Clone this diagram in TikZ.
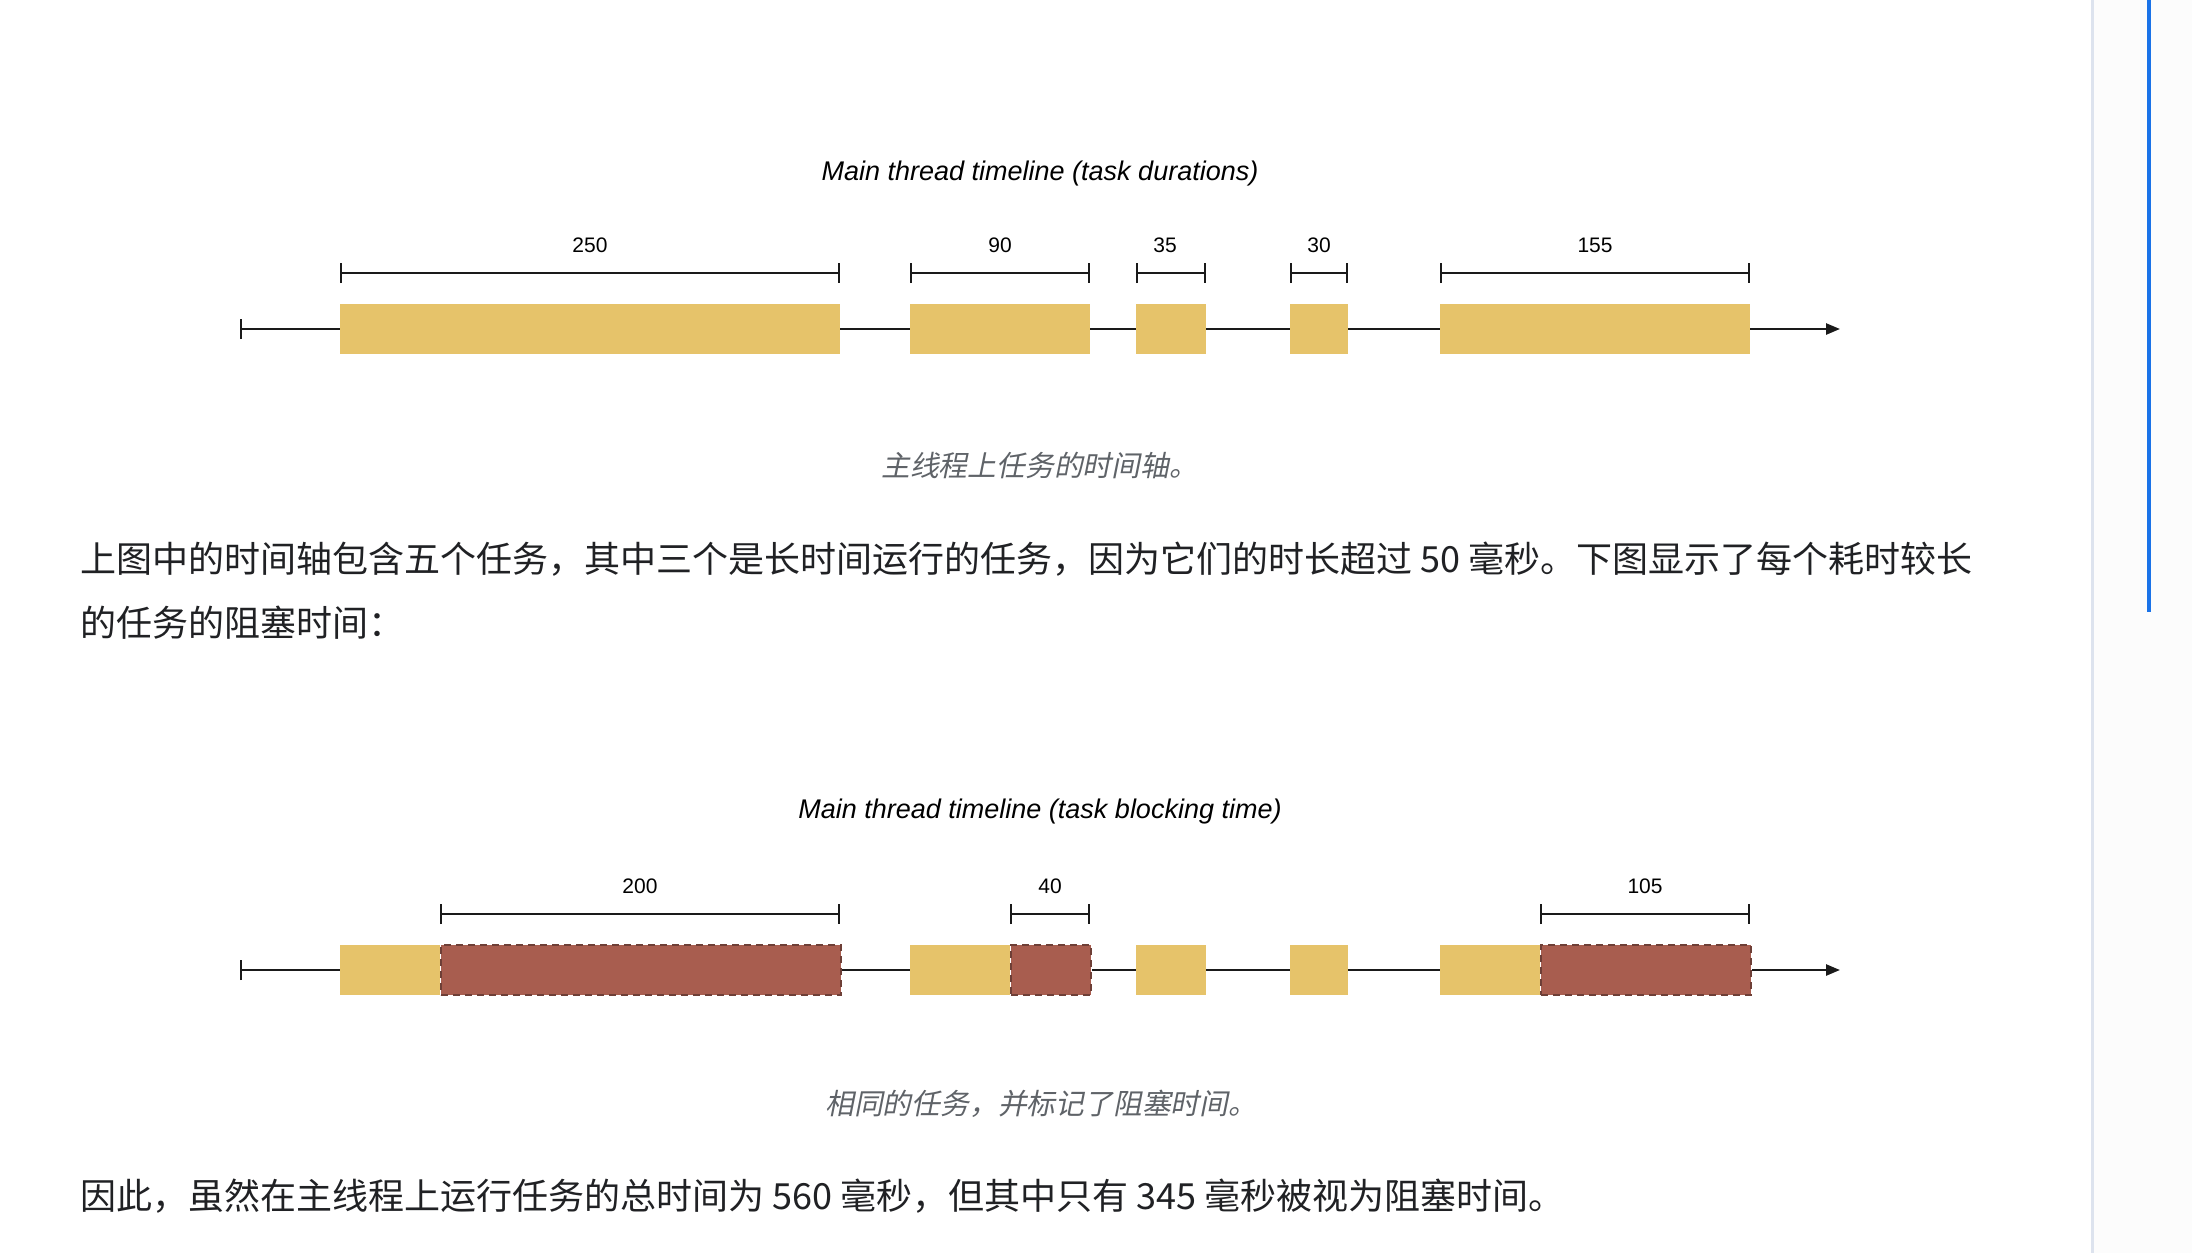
\documentclass[tikz,border=0pt]{standalone}
\usepackage{fontspec}
\setmainfont{Liberation Sans}
\newfontfamily\cjk{Noto Sans CJK SC}
\newfontfamily\cjkit[FakeSlant=0.2]{Noto Sans CJK SC}
\usetikzlibrary{arrows.meta}
\definecolor{taskyellow}{HTML}{E6C36A}
\definecolor{blockred}{HTML}{A85D4F}
\definecolor{blockedge}{HTML}{6E3F37}
\definecolor{axisblack}{HTML}{1A1A1A}
\definecolor{capgray}{HTML}{5F6368}
\definecolor{bodyblack}{HTML}{202124}
\definecolor{sidegray}{HTML}{DDE3EE}
\definecolor{scrollblue}{HTML}{1A73E8}
\tikzset{
  taskbar/.style={fill=taskyellow, draw=none, inner sep=0pt, minimum height=50pt, anchor=west},
  blockbar/.style={fill=blockred, draw=blockedge, line width=2pt, dash pattern=on 7pt off 5pt, inner sep=0pt, minimum height=50pt, anchor=west},
  axisline/.style={draw=axisblack, line width=2.5pt},
  bracket/.style={draw=axisblack, line width=2.5pt, {Bar[width=20pt,line width=2pt]}-{Bar[width=20pt,line width=2pt]}},
  durlabel/.style={font=\fontsize{21}{25}\selectfont, text=black, inner sep=0pt, anchor=base},
  charttitle/.style={font=\fontsize{27}{32}\selectfont\itshape, text=black, inner sep=0pt, anchor=base},
  caption/.style={font=\cjkit\fontsize{28.8}{34}\selectfont, text=capgray, inner sep=0pt, anchor=base west},
  bodytext/.style={font=\cjk\fontsize{36}{42}\selectfont, text=bodyblack, inner sep=0pt, anchor=base west},
}
\begin{document}
\begin{tikzpicture}[x=1pt, y=-1pt]
\fill[white] (0,0) rectangle (2192,1253);
\useasboundingbox (0,0) rectangle (2192,1253);
% right side panel
\fill[white!98!gray] (2093,0) rectangle (2192,1253);
\fill[sidegray] (2090.5,0) rectangle (2093.5,1253);
\fill[scrollblue] (2147,0) rectangle (2151,612);

% ---------- Chart 1 ----------
\node[charttitle] (t1) at (1040,180) {Main thread timeline (task durations)};
\coordinate (s1) at (240,329);
\coordinate (e1) at (1840,329);
\node[taskbar, minimum width=500pt] (a1) at (340,329) {};
\node[taskbar, minimum width=180pt] (a2) at (910,329) {};
\node[taskbar, minimum width=70pt]  (a3) at (1136,329) {};
\node[taskbar, minimum width=58pt]  (a4) at (1290,329) {};
\node[taskbar, minimum width=310pt] (a5) at (1440,329) {};
\draw[axisline, {Bar[width=20pt,line width=2pt]}-] (s1) -- (a1.west);
\draw[axisline] (a1.east) -- (a2.west);
\draw[axisline] (a2.east) -- (a3.west);
\draw[axisline] (a3.east) -- (a4.west);
\draw[axisline] (a4.east) -- (a5.west);
\draw[axisline, -{Triangle[length=14pt,width=11pt]}] (a5.east) -- (e1);
\draw[bracket] (340,273) coordinate (k1a) -- (840,273) coordinate (k1b);
\draw[bracket] (910,273) coordinate (k2a) -- (1090,273) coordinate (k2b);
\draw[bracket] (1136,273) coordinate (k3a) -- (1206,273) coordinate (k3b);
\draw[bracket] (1290,273) coordinate (k4a) -- (1348,273) coordinate (k4b);
\draw[bracket] (1440,273) coordinate (k5a) -- (1750,273) coordinate (k5b);
\node[durlabel] (l1) at (590,252) {250};
\node[durlabel] (l2) at (1000,252) {90};
\node[durlabel] (l3) at (1165,252) {35};
\node[durlabel] (l4) at (1319,252) {30};
\node[durlabel] (l5) at (1595,252) {155};
\node[caption] (c1) at (881,476) {主线程上任务的时间轴。};

% ---------- body text ----------
\node[bodytext] (p1) at (80,572) {上图中的时间轴包含五个任务，其中三个是长时间运行的任务，因为它们的时长超过 50 毫秒。下图显示了每个耗时较长};
\node[bodytext] (p2) at (80,636) {的任务的阻塞时间：};

% ---------- Chart 2 ----------
\node[charttitle] (t2) at (1040,818) {Main thread timeline (task blocking time)};
\coordinate (s2) at (240,970);
\coordinate (e2) at (1840,970);
\node[taskbar, minimum width=100pt] (b1) at (340,970) {};
\node[blockbar, minimum width=400pt] (r1) at (440,970) {};
\node[taskbar, minimum width=100pt] (b2) at (910,970) {};
\node[blockbar, minimum width=80pt] (r2) at (1010,970) {};
\node[taskbar, minimum width=70pt]  (b3) at (1136,970) {};
\node[taskbar, minimum width=58pt]  (b4) at (1290,970) {};
\node[taskbar, minimum width=100pt] (b5) at (1440,970) {};
\node[blockbar, minimum width=210pt] (r5) at (1540,970) {};
\draw[axisline, {Bar[width=20pt,line width=2pt]}-] (s2) -- (b1.west);
\draw[axisline] (r1.east) -- (b2.west);
\draw[axisline] (r2.east) -- (b3.west);
\draw[axisline] (b3.east) -- (b4.west);
\draw[axisline] (b4.east) -- (b5.west);
\draw[axisline, -{Triangle[length=14pt,width=11pt]}] (r5.east) -- (e2);
\draw[bracket] (440,914) coordinate (m1a) -- (840,914) coordinate (m1b);
\draw[bracket] (1010,914) coordinate (m2a) -- (1090,914) coordinate (m2b);
\draw[bracket] (1540,914) coordinate (m5a) -- (1750,914) coordinate (m5b);
\node[durlabel] (n1) at (640,893) {200};
\node[durlabel] (n2) at (1050,893) {40};
\node[durlabel] (n5) at (1645,893) {105};
\node[caption] (c2) at (825,1114) {相同的任务，并标记了阻塞时间。};

\node[bodytext] (p3) at (80,1209) {因此，虽然在主线程上运行任务的总时间为 560 毫秒，但其中只有 345 毫秒被视为阻塞时间。};
\end{tikzpicture}
\end{document}
